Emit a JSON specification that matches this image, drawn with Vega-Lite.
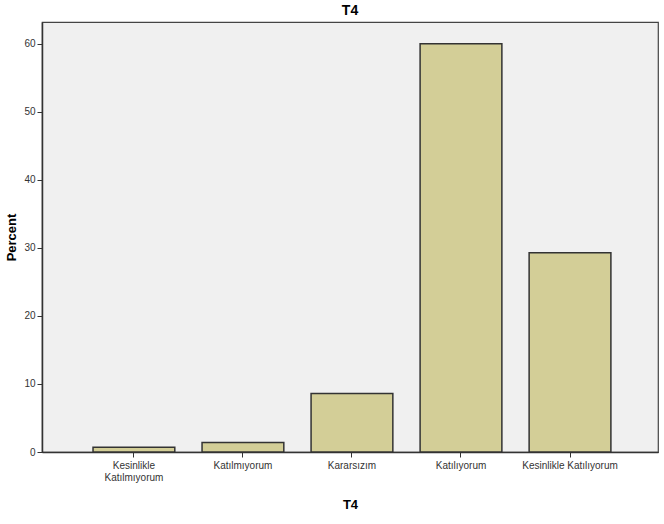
{
  "$schema": "https://vega.github.io/schema/vega-lite/v6.json",
  "width": 616,
  "height": 430,
  "padding": {"left": 5, "top": 4, "right": 5, "bottom": 5},
  "title": {"text": "T4", "font": "Liberation Sans", "fontSize": 14, "fontWeight": "bold", "color": "#000", "offset": 4},
  "config": {
    "view": {"fill": "#F0F0F0", "stroke": "#444", "strokeWidth": 1.2},
    "font": "Liberation Sans"
  },
  "data": {
    "values": [
      {"T4": "Kesinlikle Katılmıyorum", "Percent": 0.7},
      {"T4": "Katılmıyorum", "Percent": 1.4},
      {"T4": "Kararsızım", "Percent": 8.6},
      {"T4": "Katılıyorum", "Percent": 60.0},
      {"T4": "Kesinlikle Katılıyorum", "Percent": 29.3}
    ]
  },
  "mark": {"type": "bar", "color": "#D3CE97", "stroke": "#333", "strokeWidth": 1.5},
  "encoding": {
    "x": {
      "field": "T4", "type": "nominal", "sort": null,
      "scale": {"paddingInner": 0.25, "paddingOuter": 0.45, "align": 0.52},
      "axis": {
        "title": "T4", "titleFont": "Liberation Sans", "titleFontSize": 13, "titleFontWeight": "bold", "titleColor": "#000", "titlePadding": 16,
        "labelAngle": 0, "labelFontSize": 10, "labelColor": "#333", "labelFont": "Liberation Sans",
        "labelExpr": "datum.label == 'Kesinlikle Katılmıyorum' ? ['Kesinlikle', 'Katılmıyorum'] : datum.label",
        "tickColor": "#333", "tickSize": 5, "domainColor": "#333", "domainWidth": 1.5, "labelPadding": 3
      }
    },
    "y": {
      "field": "Percent", "type": "quantitative",
      "scale": {"domain": [0, 63.2], "nice": false},
      "axis": {
        "title": "Percent", "titleFont": "Liberation Sans", "titleFontSize": 13, "titleFontWeight": "bold", "titleColor": "#000", "titlePadding": 5,
        "values": [0, 10, 20, 30, 40, 50, 60], "grid": false,
        "labelFontSize": 10, "labelColor": "#333", "labelFont": "Liberation Sans",
        "tickColor": "#333", "tickSize": 5, "domainColor": "#333", "domainWidth": 1.5, "labelPadding": 2
      }
    }
  }
}
